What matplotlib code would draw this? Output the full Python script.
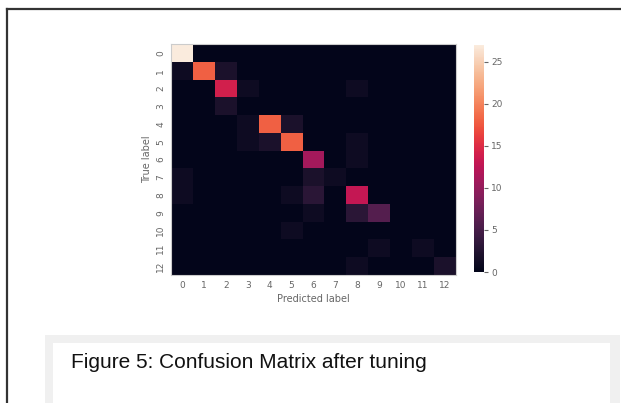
import matplotlib
matplotlib.use("Agg")
import matplotlib.pyplot as plt
import numpy as np
import seaborn as sns
from matplotlib.patches import Rectangle
from matplotlib.lines import Line2D

labels = [str(i) for i in range(13)]
row0 = [27, 0, 0, 0, 0, 0, 0, 0, 0, 0, 0, 0, 0]
row1 = [1, 18, 2, 0, 0, 0, 0, 0, 0, 0, 0, 0, 0]
row2 = [0, 0, 14, 1, 0, 0, 0, 0, 1, 0, 0, 0, 0]
row3 = [0, 0, 2, 0, 0, 0, 0, 0, 0, 0, 0, 0, 0]
row4 = [0, 0, 0, 1, 18, 2, 0, 0, 0, 0, 0, 0, 0]
row5 = [0, 0, 0, 1, 2, 18, 0, 0, 1, 0, 0, 0, 0]
row6 = [0, 0, 0, 0, 0, 0, 11, 0, 1, 0, 0, 0, 0]
row7 = [1, 0, 0, 0, 0, 0, 2, 1, 0, 0, 0, 0, 0]
row8 = [1, 0, 0, 0, 0, 1, 3, 0, 13, 0, 0, 0, 0]
row9 = [0, 0, 0, 0, 0, 0, 1, 0, 3, 6, 0, 0, 0]
row10 = [0, 0, 0, 0, 0, 1, 0, 0, 0, 0, 0, 0, 0]
row11 = [0, 0, 0, 0, 0, 0, 0, 0, 0, 1, 0, 1, 0]
row12 = [0, 0, 0, 0, 0, 0, 0, 0, 1, 0, 0, 0, 2]
cbar_ticks = [0, 5, 10, 15, 20, 25]
caption = "Figure 5: Confusion Matrix after tuning"

cm = np.array([row0, row1, row2, row3, row4, row5, row6, row7, row8,
               row9, row10, row11, row12])

W, H = 621, 403
fig = plt.figure(figsize=(W / 100, H / 100), dpi=100)
fig.patch.set_facecolor("white")

def box(x0, y0, x1, y1):
    return [x0 / W, 1 - y1 / H, (x1 - x0) / W, (y1 - y0) / H]

ax = fig.add_axes(box(171, 44, 456, 275))
cax = fig.add_axes(box(474, 45, 484, 272))

tick_color = "#666666"
sns.heatmap(cm, ax=ax, cbar_ax=cax, cmap="rocket", vmin=0, vmax=cm.max(),
            xticklabels=labels, yticklabels=labels,
            cbar_kws={"ticks": cbar_ticks})

ax.tick_params(axis="both", length=0, labelsize=6.5, colors=tick_color, pad=4)
for t in ax.get_yticklabels():
    t.set_rotation(90)
    t.set_va("center")
for t in ax.get_xticklabels():
    t.set_rotation(0)
ax.set_xlabel("Predicted label", fontsize=7, color=tick_color, labelpad=3)
ax.set_ylabel("True label", fontsize=7, color=tick_color, labelpad=3)
for s in ax.spines.values():
    s.set_visible(True)
    s.set_color("#cccccc")
    s.set_linewidth(0.8)

cax.tick_params(labelsize=6.5, colors=tick_color, length=3, width=0.8, pad=2)
cax.yaxis.set_ticks_position("right")
for s in cax.spines.values():
    s.set_visible(False)

# page frame lines
fig.add_artist(Line2D([6.5 / W, 1], [1 - 8.5 / H, 1 - 8.5 / H],
                      transform=fig.transFigure, color="#333333", lw=1.6))
fig.add_artist(Line2D([6.5 / W, 6.5 / W], [0, 1 - 8.5 / H],
                      transform=fig.transFigure, color="#333333", lw=1.6))

# caption box
x0, y0, x1 = 45, 335, 620
fig.add_artist(Rectangle((x0 / W, 0), (x1 - x0) / W, 1 - y0 / H,
                         transform=fig.transFigure, facecolor="#f0f0f0",
                         edgecolor="none"))
fig.add_artist(Rectangle((53 / W, 0), (610 - 53) / W, 1 - 343 / H,
                         transform=fig.transFigure, facecolor="white",
                         edgecolor="none"))
fig.text(71 / W, 1 - 368 / H, caption, fontsize=15,
         family="Liberation Sans", color="#111111", va="baseline", ha="left")

fig.savefig("out.png", dpi=100)
